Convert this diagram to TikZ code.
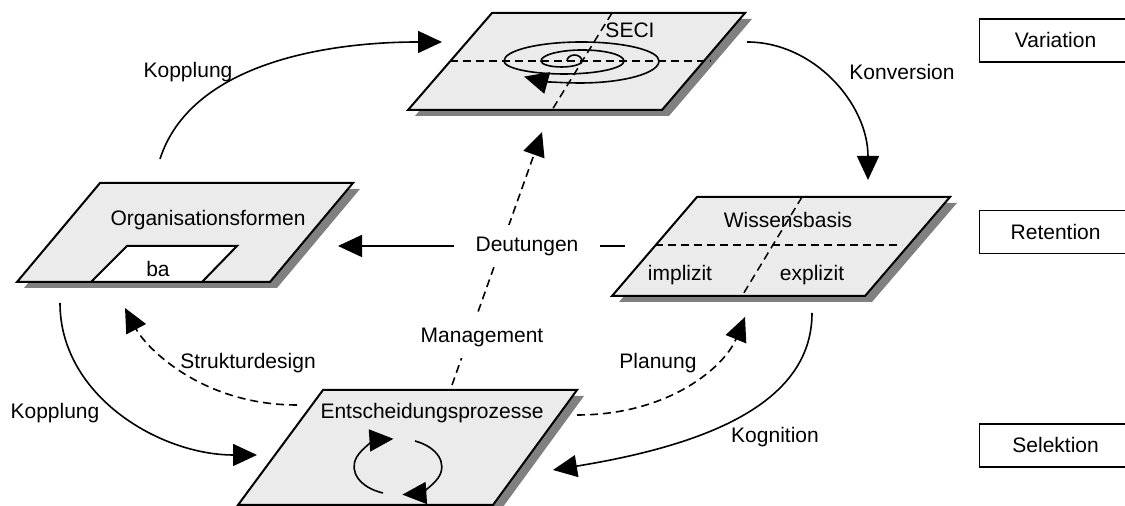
\documentclass[tikz,border=0pt]{standalone}
\usepackage{fontspec}
\setmainfont{Liberation Sans}
\usetikzlibrary{arrows.meta}

\definecolor{platefill}{gray}{0.92}
\definecolor{platedrop}{gray}{0.5}

\newcommand{\plate}[4]{%
        \fill[platedrop, shift={(7,-6)}] #1 -- #2 -- #3 -- #4 -- cycle;
        \draw[plate] #1 -- #2 -- #3 -- #4 -- cycle;}

\tikzset{
        plate/.style={fill=platefill, line width=1pt},
        flow/.style={line width=0.8pt, -{Triangle[length=12pt, width=11pt]}},
        dflow/.style={flow, dash pattern=on 4pt off 2.5pt},
        divide/.style={line width=0.75pt, dash pattern=on 4pt off 2.5pt},
        lbl/.style={inner sep=1pt},
        cutout/.style={fill=white, inner xsep=10.5pt, inner ysep=6pt},
        phase/.style={draw, line width=0.6pt, anchor=west, minimum width=76pt, minimum height=21.5pt}
}

\begin{document}
\begin{tikzpicture}[x=0.5pt, y=0.5pt, font=\fontsize{10.5}{12}\selectfont]

        \useasboundingbox (0,0) rectangle (1125,506);

        % the four planes
        \plate{(408,396)}{(662,396)}{(745,493)}{(492,493)}
        \plate{(17,224)}{(270,224)}{(353,323)}{(100,323)}
        \plate{(612,210)}{(865,210)}{(950,309)}{(697,309)}
        \plate{(238,1)}{(493,1)}{(577,116)}{(323,116)}
        \draw[fill=white, line width=1pt] (91,224) -- (202,224) -- (237,260) -- (127,260) -- cycle;

        % SECI spiral
        \draw[divide] (450,445) -- (711,445);
        \draw[divide] (612,493) -- (552,396);
        \draw[flow] (567,445) arc[start angle=180, end angle=0, x radius=7.5, y radius=6]
                arc[start angle=0, end angle=-180, x radius=20.5, y radius=6]
                arc[start angle=180, end angle=0, x radius=41.5, y radius=11]
                arc[start angle=0, end angle=-180, x radius=60, y radius=13]
                arc[start angle=180, end angle=0, x radius=77.5, y radius=19]
                arc[start angle=0, end angle=-135, x radius=79, y radius=22];

        \draw[divide] (655,261) -- (902,261);
        \draw[divide] (802,309) -- (742,210);

        \node (seci) at (630,476) {SECI};
        \node (orga) at (208,286) {Organisationsformen};
        \node (ba) at (158,237) {ba};
        \node (wiss) at (788,286) {Wissensbasis};
        \node (impl) at (680,231) {implizit};
        \node (expl) at (812,231) {explizit};
        \node (entsch) at (432,93) {Entscheidungsprozesse};

        \draw[flow] (383,13) arc[start angle=250, end angle=96, x radius=44, y radius=28];
        \draw[flow] (415,65) arc[start angle=67, end angle=-84, x radius=44, y radius=28];

        \coordinate (orga-n) at (160,347);
        \coordinate (seci-w) at (442,464);
        \coordinate (seci-e) at (747,464);
        \coordinate (wiss-n) at (868,326);
        \coordinate (wiss-w) at (625,260);
        \coordinate (orga-e) at (338,260);
        \coordinate (orga-s) at (60,203);
        \coordinate (entsch-w) at (257,51);
        \coordinate (wiss-s) at (812,193);
        \coordinate (entsch-e) at (553,36);
        \coordinate (entsch-nw) at (297,101);
        \coordinate (orga-se) at (125,198);
        \coordinate (entsch-ne) at (577,91);
        \coordinate (wiss-sw) at (745,189);
        \coordinate (entsch-n) at (452,121);
        \coordinate (seci-s) at (542,374);

        \draw[dflow] (entsch-n) -- (seci-s);
        \node[cutout] (deut) at (527,260) {Deutungen};
        \node[cutout] (mgmt) at (482,169) {Management};

        \draw[flow] (orga-n) .. controls +(30,93) and +(-122,0) .. (seci-w);
        \draw[flow] (seci-e) .. controls +(67,0) and +(0,76) .. (wiss-n);
        \draw[flow] (wiss-w) -- (deut) -- (orga-e);
        \draw[flow] (orga-s) .. controls +(0,-93) and +(-97,0) .. (entsch-w);
        \draw[flow] (wiss-s) .. controls +(0,-93) and +(147,24) .. (entsch-e);
        \draw[dflow] (entsch-nw) .. controls +(-97,0) and +(20,-38) .. (orga-se);
        \draw[dflow] (entsch-ne) .. controls +(93,0) and +(-20,-49) .. (wiss-sw);

        \node[lbl] (kopp-o) at (188,434) {Kopplung};
        \node[lbl] (konv) at (902,434) {Konversion};
        \node[lbl] (struk) at (248,143) {Strukturdesign};
        \node[lbl] (plan) at (658,143) {Planung};
        \node[lbl] (kopp-u) at (55,93) {Kopplung};
        \node[lbl] (kogn) at (775,69) {Kognition};

        \node[phase] (var) at (979,465.5) {Variation};
        \node[phase] (ret) at (979,274) {Retention};
        \node[phase] (sel) at (979,60.5) {Selektion};

\end{tikzpicture}
\end{document}
